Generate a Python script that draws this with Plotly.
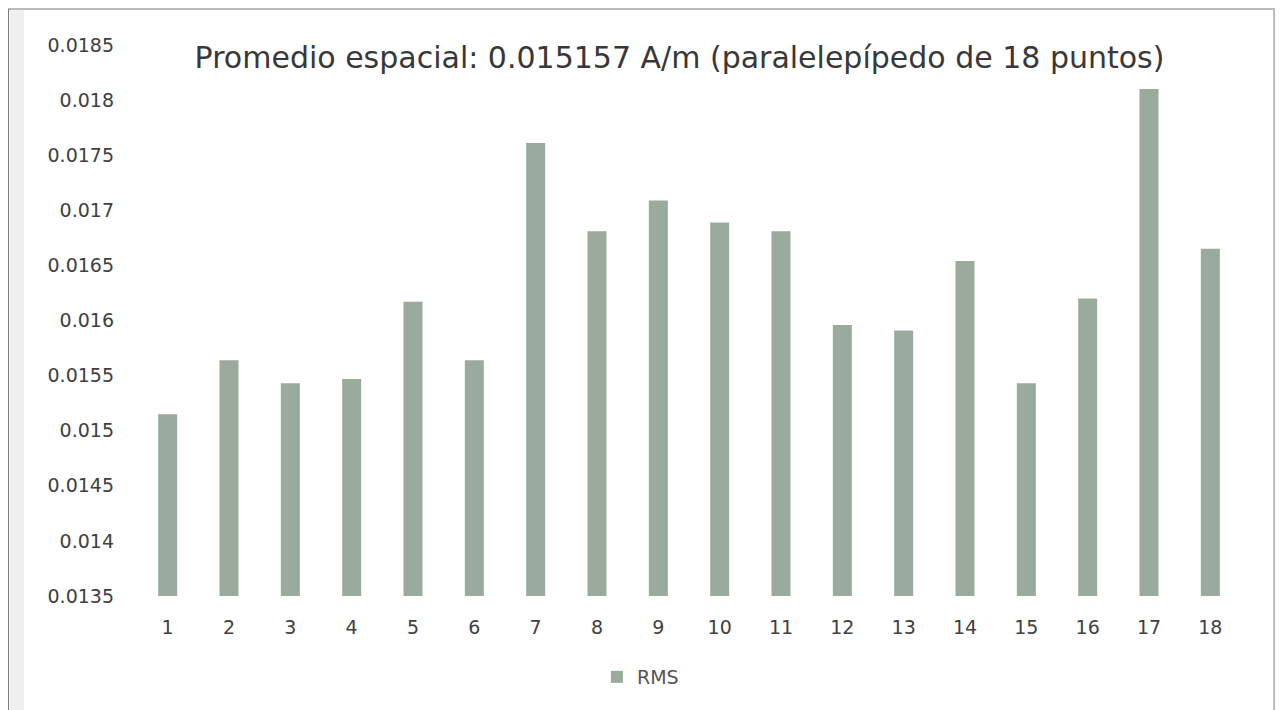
import plotly.graph_objects as go

points = [str(i) for i in range(1, 19)]
rms = [0.01515, 0.01564, 0.01543, 0.01547, 0.01617, 0.01564, 0.01761, 0.01681, 0.01709,
       0.01689, 0.01681, 0.01596, 0.01591, 0.01654, 0.01543, 0.01620, 0.01810, 0.01665]
y_ticks = [0.0135, 0.014, 0.0145, 0.015, 0.0155, 0.016, 0.0165, 0.017, 0.0175, 0.018, 0.0185]
y_tick_labels = ["0.0135", "0.014", "0.0145", "0.015", "0.0155", "0.016", "0.0165",
                 "0.017", "0.0175", "0.018", "0.0185"]
title = "Promedio espacial: 0.015157 A/m (paralelepípedo de 18 puntos)"

bar_color = "#9aab9d"
y_floor = 0.0135

fig = go.Figure()
fig.add_trace(go.Bar(
    x=points, y=[v - y_floor for v in rms], base=y_floor, name="RMS",
    marker=dict(color=bar_color, line=dict(width=0)),
    width=0.31,
))

fig.update_layout(
    width=1284, height=710,
    paper_bgcolor="white", plot_bgcolor="white",
    margin=dict(l=129, r=51, t=37, b=122),
    font=dict(family="DejaVu Sans", color="#404040"),
    title=dict(text=title, x=0.523, xanchor="center", y=0.9296, yanchor="middle",
               font=dict(family="DejaVu Sans", size=30, color="#383838")),
    showlegend=True,
    legend=dict(orientation="h", x=0.456, xanchor="center", y=-0.147, yanchor="middle",
                font=dict(size=19, color="#555555"), itemwidth=30),
    shapes=[
        dict(type="rect", xref="paper", yref="paper",
             x0=-0.115, x1=-0.1024, y0=-0.25, y1=1.0653,
             fillcolor="#eef0ee", line=dict(width=0), layer="below"),
        dict(type="rect", xref="paper", yref="paper",
             x0=-0.1168, x1=1.03, y0=-0.25, y1=1.0653,
             line=dict(color="#b8bcb8", width=2), layer="below"),
        dict(type="line", xref="paper", yref="paper",
             x0=-0.1168, x1=-0.1168, y0=-0.25, y1=1.0653,
             line=dict(color="#7a7e7a", width=2), layer="below"),
    ],
)
fig.update_xaxes(type="category", showgrid=False, showline=False, ticks="",
                 tickfont=dict(size=19, color="#404040"), ticklabelstandoff=18)
fig.update_yaxes(range=[y_floor, 0.0185], tickvals=y_ticks, ticktext=y_tick_labels,
                 showgrid=False, zeroline=False, showline=False, ticks="",
                 tickfont=dict(size=19, color="#404040"), ticklabelstandoff=22)

fig.write_html("out.html")
